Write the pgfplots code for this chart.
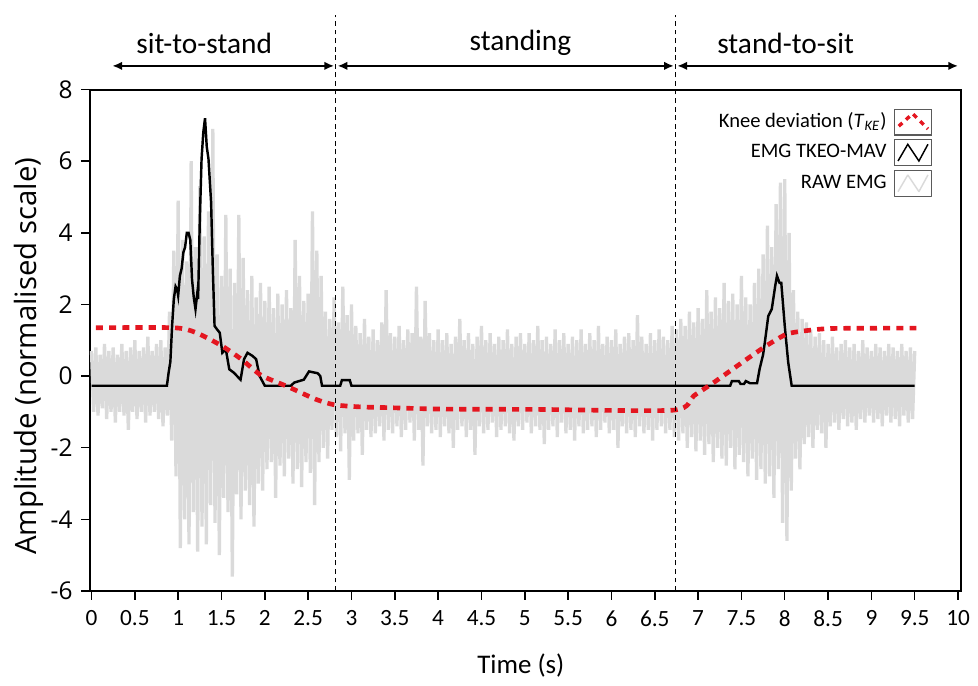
\documentclass[border=0pt]{standalone}
\usepackage{fontspec}
\setmainfont{Carlito}
\newfontfamily\osans{Open Sans}
\usepackage{pgfplots}
\pgfplotsset{compat=1.18}
\usetikzlibrary{arrows.meta}

\definecolor{rawgray}{RGB}{218,218,218}
\definecolor{kneered}{RGB}{228,22,32}
\definecolor{boxgray}{RGB}{90,90,90}

\begin{document}
\begin{tikzpicture}
\begin{axis}[
    scale only axis, width=356pt, height=205pt,
    xmin=-0.02, xmax=10.03, ymin=-6, ymax=8,
    xtick={0,0.5,1,1.5,2,2.5,3,3.5,4,4.5,5,5.5,6,6.5,7,7.5,8,8.5,9,9.5,10},
    ytick={-6,-4,-2,0,2,4,6,8},
    tick pos=left, tick align=outside, major tick length=3.5pt,
    tick style={black, line width=0.6pt},
    axis line style={black, line width=0.8pt},
    /pgf/number format/assume math mode=true,
    xticklabel style={font=\fontsize{9.5}{11}\selectfont, yshift=-1pt},
    yticklabel style={font=\osans\fontsize{10}{12}\selectfont},
    xlabel={Time (s)},
    xlabel style={font=\fontsize{11}{13}\selectfont, at={(axis description cs:0.495,-0.149)}, anchor=center},
    ylabel={Amplitude (normalised scale)},
    ylabel style={font=\osans\fontsize{12}{14}\selectfont, at={(axis description cs:-0.0697,0.468)}, anchor=center},
    clip=false,
    reverse legend, legend plot pos=right, legend cell align=right,
    legend style={at={(axis cs:9.79,7.62)}, anchor=north east, draw=none, fill=none,
        font=\fontsize{8.4}{10}\selectfont, row sep=1.5pt, column sep=2pt,
        nodes={inner sep=1pt}},
]

% raw EMG, sampled every 0.025 s
\addplot[rawgray, line width=1.35pt, line join=bevel,
    legend image code/.code={
      \draw[boxgray, line width=0.5pt] (0cm,-0.185cm) rectangle (0.53cm,0.185cm);
      \draw[rawgray, line width=0.6pt] (0.05cm,-0.12cm) -- (0.19cm,0.12cm) -- (0.35cm,-0.12cm) -- (0.48cm,0.12cm);}]
  table[row sep=\\, header=false, x expr=\coordindex*0.025, y index=0] {
0.7\\ -1.0\\ 0.8\\ -1.1\\ 0.6\\ -0.9\\ 0.9\\ -1.2\\ 0.7\\ -1.0\\
0.8\\ -1.3\\ 0.6\\ -1.0\\ 0.9\\ -1.1\\ 0.7\\ -1.5\\ 0.8\\ -1.0\\
1.0\\ -1.2\\ 0.7\\ -1.0\\ 0.8\\ -1.3\\ 1.1\\ -1.1\\ 0.7\\ -1.0\\
0.9\\ -1.2\\ 1.0\\ -1.4\\ 0.8\\ -1.1\\ 1.8\\ -1.8\\ 3.5\\ -2.8\\
4.9\\ -4.8\\ 3.8\\ -4.0\\ 3.2\\ -4.7\\ 6.0\\ -3.8\\ 3.6\\ -4.9\\
5.3\\ -4.2\\ 3.9\\ -4.7\\ 4.6\\ -3.6\\ 6.9\\ -4.1\\ 3.4\\ -5.0\\
2.8\\ -3.4\\ 4.5\\ -3.8\\ 3.0\\ -5.6\\ 2.6\\ -3.3\\ 4.5\\ -4.0\\
3.3\\ -3.2\\ 2.4\\ -3.6\\ 2.8\\ -4.2\\ 2.2\\ -3.0\\ 2.6\\ -3.2\\
2.1\\ -2.6\\ 2.5\\ -2.4\\ 1.9\\ -3.4\\ 2.3\\ -2.5\\ 2.0\\ -2.8\\
2.4\\ -2.3\\ 1.9\\ -3.0\\ 3.8\\ -2.6\\ 2.8\\ -3.1\\ 2.1\\ -2.4\\
2.3\\ -2.7\\ 4.6\\ -3.6\\ 3.5\\ -2.4\\ 2.8\\ -2.0\\ 1.8\\ -2.3\\
1.6\\ -1.5\\ 2.2\\ -1.7\\ 1.5\\ -2.1\\ 2.5\\ -1.6\\ 1.7\\ -2.9\\
2.0\\ -1.8\\ 1.4\\ -1.6\\ 1.2\\ -2.2\\ 1.6\\ -1.5\\ 1.1\\ -1.7\\
1.3\\ -1.6\\ 1.0\\ -1.4\\ 1.5\\ -1.8\\ 2.4\\ -1.5\\ 1.2\\ -1.6\\
1.1\\ -1.4\\ 1.4\\ -1.7\\ 1.0\\ -1.5\\ 1.3\\ -1.3\\ 1.2\\ -1.8\\
2.5\\ -1.5\\ 1.1\\ -2.5\\ 2.1\\ -1.4\\ 1.2\\ -1.6\\ 1.0\\ -1.5\\
1.3\\ -1.7\\ 1.0\\ -1.4\\ 1.2\\ -1.6\\ 0.9\\ -2.0\\ 1.1\\ -1.5\\
1.6\\ -1.4\\ 1.0\\ -1.7\\ 1.2\\ -1.5\\ 0.9\\ -2.2\\ 1.1\\ -1.4\\
1.4\\ -1.6\\ 1.0\\ -1.5\\ 1.2\\ -1.3\\ 0.9\\ -1.7\\ 1.1\\ -1.5\\
1.0\\ -1.4\\ 1.3\\ -1.6\\ 0.9\\ -1.8\\ 1.1\\ -1.4\\ 1.2\\ -1.5\\
0.9\\ -1.3\\ 1.2\\ -1.6\\ 1.0\\ -1.4\\ 1.4\\ -1.5\\ 1.0\\ -1.9\\
1.1\\ -1.5\\ 0.9\\ -1.4\\ 1.3\\ -1.7\\ 1.0\\ -1.3\\ 1.2\\ -1.6\\
0.9\\ -1.5\\ 1.1\\ -1.8\\ 1.0\\ -1.4\\ 1.3\\ -1.6\\ 0.9\\ -1.5\\
1.2\\ -1.4\\ 1.0\\ -1.7\\ 1.4\\ -1.5\\ 0.9\\ -1.3\\ 1.1\\ -1.6\\
1.0\\ -1.5\\ 1.3\\ -2.0\\ 0.9\\ -1.4\\ 1.1\\ -1.6\\ 1.2\\ -1.5\\
1.0\\ -1.7\\ 1.7\\ -1.4\\ 1.1\\ -1.6\\ 0.9\\ -1.5\\ 1.2\\ -1.8\\
1.0\\ -1.5\\ 1.3\\ -1.4\\ 1.1\\ -1.6\\ 1.0\\ -1.5\\ 1.4\\ -1.7\\
1.3\\ -1.8\\ 1.6\\ -1.6\\ 1.4\\ -2.0\\ 1.8\\ -1.7\\ 1.5\\ -2.1\\
1.9\\ -1.8\\ 1.6\\ -2.2\\ 2.4\\ -1.9\\ 1.8\\ -2.4\\ 2.2\\ -2.0\\
1.9\\ -2.3\\ 2.6\\ -2.5\\ 2.1\\ -2.0\\ 2.3\\ -2.6\\ 2.0\\ -2.2\\
2.8\\ -2.4\\ 2.2\\ -2.8\\ 2.0\\ -2.3\\ 2.6\\ -2.9\\ 3.0\\ -2.6\\
3.4\\ -3.0\\ 4.2\\ -2.8\\ 3.6\\ -3.4\\ 4.8\\ -2.6\\ 5.4\\ -4.1\\
5.5\\ -4.6\\ 4.0\\ -3.2\\ 2.4\\ -2.3\\ 1.8\\ -2.6\\ 1.6\\ -1.9\\
1.5\\ -1.7\\ 1.3\\ -2.0\\ 1.1\\ -1.5\\ 1.2\\ -1.6\\ 1.0\\ -2.0\\
0.9\\ -1.4\\ 1.1\\ -1.3\\ 0.8\\ -1.5\\ 0.9\\ -1.2\\ 1.0\\ -1.4\\
0.8\\ -1.3\\ 0.9\\ -1.5\\ 0.7\\ -1.2\\ 1.0\\ -1.3\\ 0.8\\ -1.1\\
0.7\\ -1.3\\ 0.9\\ -1.2\\ 0.8\\ -1.4\\ 0.7\\ -1.1\\ 0.9\\ -1.3\\
0.8\\ -1.2\\ 0.7\\ -1.4\\ 0.9\\ -1.1\\ 0.7\\ -1.3\\ 0.8\\ -1.2\\
0.7\\
};
\addlegendentry{RAW EMG}

% TKEO-MAV envelope
\addplot[black, line width=1pt,
    legend image code/.code={
      \draw[boxgray, line width=0.5pt] (0cm,-0.185cm) rectangle (0.53cm,0.185cm);
      \draw[black, line width=0.6pt] (0.05cm,-0.12cm) -- (0.19cm,0.12cm) -- (0.35cm,-0.12cm) -- (0.48cm,0.12cm);}]
  coordinates {
  (0,-0.27)(0.87,-0.27)(0.89,0.1)(0.91,0.4)(0.93,1.4)(0.95,2.15)(0.97,2.5)(0.99,2.4)
  (1.0,2.25)(1.02,2.8)(1.04,3.0)(1.06,3.45)(1.08,3.6)(1.1,4.0)(1.12,4.0)(1.14,3.8)
  (1.16,2.7)(1.18,2.2)(1.2,1.87)(1.22,2.3)(1.23,2.15)(1.25,4.38)(1.27,6.06)(1.29,6.8)
  (1.31,7.2)(1.33,6.4)(1.35,6.06)(1.38,4.85)(1.40,2.98)(1.42,1.4)(1.45,1.3)(1.48,1.21)
  (1.51,0.65)(1.55,0.75)(1.59,0.19)(1.64,0.1)(1.68,0.0)(1.72,-0.1)(1.76,0.47)(1.8,0.65)
  (1.86,0.56)(1.9,0.47)(1.94,0.0)(2.0,-0.27)(2.3,-0.27)(2.34,-0.18)(2.45,-0.1)(2.51,0.13)
  (2.57,0.1)(2.61,0.08)(2.64,0.0)(2.66,-0.27)(2.87,-0.27)(2.89,-0.11)(2.98,-0.11)(3.0,-0.27)
  (7.37,-0.27)(7.39,-0.14)(7.47,-0.14)(7.49,-0.22)(7.53,-0.22)(7.55,-0.14)(7.6,-0.2)(7.68,-0.2)
  (7.71,0.2)(7.75,0.6)(7.77,0.94)(7.81,1.68)(7.85,1.87)(7.89,2.52)(7.91,2.8)(7.94,2.6)
  (7.96,2.6)(8.0,1.4)(8.04,0.38)(8.08,-0.27)(9.5,-0.27)
};
\addlegendentry{EMG TKEO-MAV}

% knee deviation
\addplot[kneered, line width=1.9pt, dash pattern=on 2.9pt off 2.5pt, smooth, tension=0.4,
    legend image code/.code={
      \draw[boxgray, line width=0.5pt, solid] (0cm,-0.185cm) rectangle (0.53cm,0.185cm);
      \draw[kneered, line width=1.4pt, dash pattern=on 2pt off 2pt] (0.06cm,-0.06cm) -- (0.26cm,0.12cm) -- (0.48cm,-0.1cm);}]
  coordinates {
  (0.05,1.35)(0.95,1.35)(1.2,1.22)(1.5,0.85)(1.73,0.47)(1.96,0.02)(2.27,-0.3)(2.58,-0.64)
  (2.8,-0.8)(3.1,-0.86)(3.41,-0.88)(4.03,-0.92)(5.14,-0.93)(6.72,-0.95)(6.95,-0.55)
  (7.18,-0.18)(7.56,0.47)(7.79,0.85)(8.02,1.17)(8.25,1.27)(8.56,1.33)(9.52,1.34)
};
\addlegendentry{Knee deviation (\textit{T}\textsubscript{\textit{KE}})}

% phase markers
\draw[black, line width=0.4pt, dash pattern=on 2pt off 1.5pt] (axis cs:2.82,-6) -- (axis cs:2.82,10.08);
\draw[black, line width=0.4pt, dash pattern=on 2pt off 1.5pt] (axis cs:6.74,-6) -- (axis cs:6.74,10.08);
\draw[{Latex[length=4pt,width=3.5pt]}-{Latex[length=4pt,width=3.5pt]}, line width=0.8pt]
  (axis cs:0.24,8.66) -- (axis cs:2.80,8.66);
\draw[{Latex[length=4pt,width=3.5pt]}-{Latex[length=4pt,width=3.5pt]}, line width=0.8pt]
  (axis cs:2.84,8.66) -- (axis cs:6.72,8.66);
\draw[{Latex[length=4pt,width=3.5pt]}-{Latex[length=4pt,width=3.5pt]}, line width=0.8pt]
  (axis cs:6.76,8.66) -- (axis cs:10.0,8.66);
\node[font=\fontsize{12}{14}\selectfont] at (axis cs:1.30,9.3) {sit-to-stand};
\node[font=\fontsize{12}{14}\selectfont] at (axis cs:4.95,9.3) {standing};
\node[font=\fontsize{12}{14}\selectfont] at (axis cs:8.01,9.3) {stand-to-sit};

% page extent as in the reference
\path (axis cs:-1.056,10.5) (axis cs:10.17,-8.64);
\end{axis}
\end{tikzpicture}
\end{document}
